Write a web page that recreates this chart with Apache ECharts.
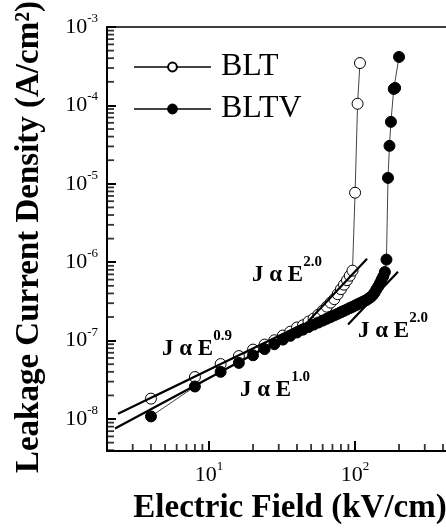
<!DOCTYPE html>
<html><head><meta charset="utf-8">
<script src="https://cdn.jsdelivr.net/npm/echarts@6/dist/echarts.min.js"></script>
<style>html,body{margin:0;padding:0;background:#fff;overflow:hidden}#c{width:452px;height:528px}</style>
</head><body><div id="c"></div>
<script>
// ---- data ----
const bltField = [4, 8, 12, 16, 20, 24, 28, 32, 36, 40, 44, 48, 52, 56, 60, 64, 68, 72, 76, 80, 84, 88, 92, 96, 100, 104, 108];
const bltJ = [1.82e-8, 3.43e-8, 5.02e-8, 6.35e-8, 7.68e-8, 8.9e-8, 1.01e-7, 1.16e-7, 1.30e-7, 1.47e-7, 1.57e-7, 1.75e-7, 1.91e-7, 2.14e-7, 2.41e-7, 2.71e-7, 3.05e-7, 3.38e-7, 3.91e-7, 4.53e-7, 5.17e-7, 5.9e-7, 6.73e-7, 7.8e-7, 7.7e-6, 1.05e-4, 3.47e-4];
const bltvField = [4, 8, 12, 16, 20, 24, 28, 32, 36, 40, 44, 48, 52, 56, 60, 64, 68, 72, 76, 80, 84, 88, 92, 96, 100, 104, 108, 112, 116, 120, 124, 128, 132, 136, 140, 144, 148, 152, 156, 160, 164, 168, 172, 176, 184, 188, 200];
const bltvJ = [1.08e-8, 2.6e-8, 4.0e-8, 5.2e-8, 6.5e-8, 7.8e-8, 9.0e-8, 1.03e-7, 1.15e-7, 1.27e-7, 1.38e-7, 1.49e-7, 1.60e-7, 1.70e-7, 1.80e-7, 1.90e-7, 2.0e-7, 2.1e-7, 2.2e-7, 2.3e-7, 2.4e-7, 2.5e-7, 2.6e-7, 2.7e-7, 2.8e-7, 2.9e-7, 3.0e-7, 3.1e-7, 3.2e-7, 3.3e-7, 3.45e-7, 3.6e-7, 3.8e-7, 4.1e-7, 4.5e-7, 4.9e-7, 5.4e-7, 6.0e-7, 6.6e-7, 7.5e-7, 1.08e-6, 1.19e-5, 3.05e-5, 6.17e-5, 1.62e-4, 1.67e-4, 4.15e-4];
// fitted power-law lines (end points, data units)
const fitBLT09 = [[2.38, 1.17e-8], [45, 1.65e-7]];
const fitBLTV10 = [[2.27, 7.57e-9], [80, 2.67e-7]];
const fitBLT20 = [[47.6, 1.75e-7], [120.8, 1.11e-6]];
const fitBLTV20 = [[89.5, 1.6e-7], [196.8, 7.57e-7]];
// axes
const xMin = 2, xMax = 461;
const yMin = 3.91e-9, yMax = 1e-3;
const xDecades = [1, 10, 100];
const yDecades = [1e-9, 1e-8, 1e-7, 1e-6, 1e-5, 1e-4];
const minorMult = [2, 3, 4, 5, 6, 7, 8, 9];
const annotations = [
  {text: '2.0', x: 252, y: 255},
  {text: '0.9', x: 162, y: 329},
  {text: '1.0', x: 240, y: 370},
  {text: '2.0', x: 358, y: 311}
];

const FONT = '"Liberation Serif", "Times New Roman", serif';
const TICK = '#000';
const zip = (a, b) => a.map((v, i) => [v, b[i]]);
const xMinor = [], yMinor = [];
xDecades.forEach(d => minorMult.forEach(m => { const v = d * m; if (v > xMin && v < xMax) xMinor.push([v, yMin]); }));
yDecades.forEach(d => minorMult.forEach(m => { const v = d * m; if (v > yMin && v < yMax) yMinor.push([xMin, v]); }));

function isPow10(v) { const l = Math.log10(v); return Math.abs(l - Math.round(l)) < 1e-6; }
function powLabel(v) { if (!isPow10(v)) return ''; return '{b|10}{s|' + Math.round(Math.log10(v)) + '}'; }
const labelRich = {
  b: {fontSize: 22, fontFamily: FONT, lineHeight: 30, color: '#000'},
  s: {fontSize: 13, fontFamily: FONT, lineHeight: 13, verticalAlign: 'top', color: '#000'}
};

const chart = echarts.init(document.getElementById('c'), null, {renderer: 'canvas'});
const option = {
  animation: false,
  grid: {left: 107, right: 0, top: 27, bottom: 77, outerBoundsMode: 'none', containLabel: false},
  legend: {
    data: ['BLT', 'BLTV'], orient: 'vertical', left: 133, top: 51, padding: 0, itemWidth: 77, itemHeight: 11, itemGap: 10,
    textStyle: {fontFamily: FONT, fontSize: 32, color: '#000', padding: [0, 0, 0, 5]}
  },
  xAxis: [{
    type: 'log', logBase: 10, min: xMin, max: xMax,
    axisLine: {show: true, lineStyle: {color: '#000', width: 2}},
    axisTick: {show: true, inside: true, length: 10, lineStyle: {color: TICK, width: 2}},
    splitLine: {show: false},
    axisLabel: {formatter: powLabel, rich: labelRich, margin: 9}
  }, {
    type: 'log', logBase: 10, min: xMin, max: xMax, position: 'top',
    axisLine: {show: true, lineStyle: {color: '#000', width: 1.5}},
    axisTick: {show: false}, axisLabel: {show: false}, splitLine: {show: false}
  }],
  yAxis: {
    type: 'log', logBase: 10, min: yMin, max: yMax,
    axisLine: {show: true, lineStyle: {color: '#000', width: 2}},
    axisTick: {show: true, inside: true, length: 9, lineStyle: {color: TICK, width: 2}},
    splitLine: {show: false},
    axisLabel: {formatter: powLabel, rich: labelRich, margin: 9}
  },
  series: [
    {
      name: 'BLT', type: 'line', data: zip(bltField, bltJ), symbol: 'circle', symbolSize: 11,
      itemStyle: {color: '#fff', borderColor: '#000', borderWidth: 1}, lineStyle: {color: '#444', width: 1}, z: 3
    },
    {
      name: 'BLTV', type: 'line', data: zip(bltvField, bltvJ), symbol: 'circle', symbolSize: 11,
      itemStyle: {color: '#000', borderColor: '#000', borderWidth: 1}, lineStyle: {color: '#444', width: 1}, z: 4
    },
    ...[fitBLT09, fitBLTV10, fitBLT20, fitBLTV20].map(f => ({
      name: 'fit', type: 'line', data: f, symbol: 'none', lineStyle: {color: '#000', width: 2.2}, z: 6, silent: true
    })),
    {
      type: 'scatter', data: xMinor, clip: false,
      symbol: 'rect', symbolSize: [1.8, 7], symbolOffset: [0, -3.5], itemStyle: {color: TICK}
    },
    {
      type: 'scatter', data: yMinor, clip: false,
      symbol: 'rect', symbolSize: [7, 1.8], symbolOffset: [3.5, 0], itemStyle: {color: TICK}
    }
  ],
  graphic: [
    {type: 'text', x: 29, y: 237, rotation: Math.PI / 2, style: {text: 'Leakage Current Density (A/cm²)', fontFamily: FONT, fontWeight: 'bold', fontSize: 33, fill: '#000', align: 'center', verticalAlign: 'middle', textAlign: 'center', textVerticalAlign: 'middle'}},
    {type: 'text', x: 290, y: 508, style: {text: 'Electric Field (kV/cm)', fontFamily: FONT, fontWeight: 'bold', fontSize: 33, fill: '#000', align: 'center', verticalAlign: 'middle', textAlign: 'center', textVerticalAlign: 'middle'}},
    ...annotations.map(a => ({
      type: 'text', x: a.x, y: a.y, z: 10,
      style: {
        text: '{a|J α E}{s|' + a.text + '}', align: 'left', verticalAlign: 'top', textAlign: 'left', textVerticalAlign: 'top',
        rich: {
          a: {fontFamily: FONT, fontWeight: 'bold', fontSize: 23, lineHeight: 40, fill: '#000', color: '#000'},
          s: {fontFamily: FONT, fontWeight: 'bold', fontSize: 15, lineHeight: 15, verticalAlign: 'top', fill: '#000', color: '#000'}
        }
      }
    }))
  ]
};
chart.setOption(option);
</script>
</body></html>
